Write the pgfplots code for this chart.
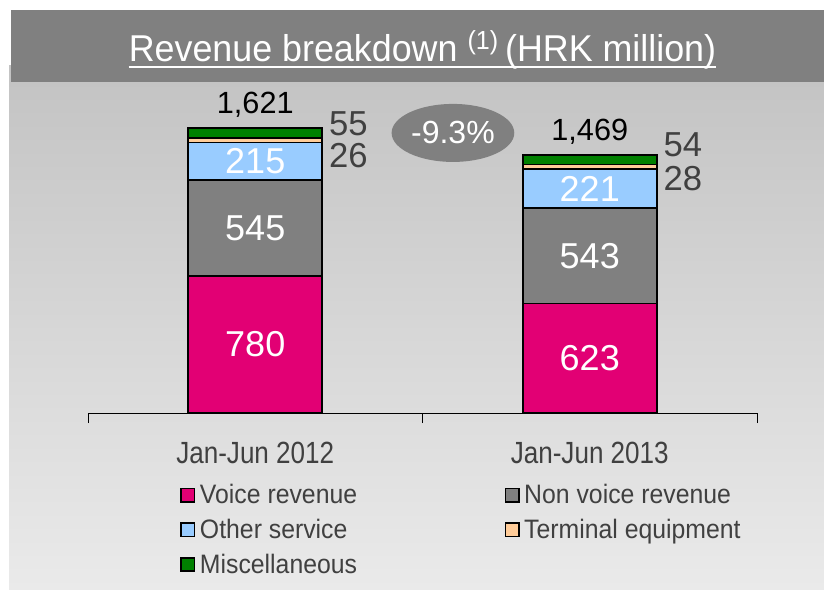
\documentclass[border=0pt]{standalone}
\usepackage{pgfplots}
\pgfplotsset{compat=1.18}
\usepackage{fontspec}
\setmainfont{Liberation Sans}
\newfontfamily\narrowfont[FakeStretch=0.85]{Liberation Sans}
\newfontfamily\legfont[FakeStretch=0.93]{Liberation Sans}
\newfontfamily\titlefont[FakeStretch=0.96]{Liberation Sans}
\usetikzlibrary{shapes.geometric}
\definecolor{tmag}{HTML}{E20074}
\definecolor{nvgray}{HTML}{808080}
\definecolor{lblue}{HTML}{99CCFF}
\definecolor{peach}{HTML}{FFCC99}
\definecolor{dgreen}{HTML}{008000}
\definecolor{txtgray}{HTML}{404040}
\definecolor{titlegray}{HTML}{808080}
\definecolor{bgtop}{HTML}{C3C3C3}
\definecolor{bgbot}{HTML}{EAEAEA}
\begin{document}
\begin{tikzpicture}[x=0.75pt,y=0.75pt]
\useasboundingbox (0,0) rectangle (824,589);
\fill[white] (0,0) rectangle (824,589);
\shade[top color=bgtop,bottom color=bgbot] (9,0) rectangle (824,523);
\fill[titlegray] (11,507) rectangle (824,579);
\node[anchor=base,inner sep=0pt,text=white] (t) at (422.5,527) {\titlefont\fontsize{28}{32}\selectfont Revenue breakdown \textsuperscript{(1)}\,(HRK million)};
\draw[white,line width=1.5pt] ([yshift=-3.75pt]t.base west) -- ([yshift=-3.75pt]t.base east);
\begin{axis}[
  at={(66pt,132pt)}, anchor=south west, scale only axis,
  width=501.75pt, height=237.2pt,
  xmin=-0.5, xmax=1.5, ymin=0, ymax=1800,
  clip=false,
  axis y line=none, axis x line=bottom,
  x axis line style={-,black,line width=0.6pt},
  ybar stacked, bar width=100.5pt,
  xtick={0,1}, xticklabels={Jan-Jun 2012,Jan-Jun 2013},
  major tick length=0pt,
  minor xtick={-0.5,0.5,1.5}, minor tick length=7.5pt, tick align=outside,
  minor x tick style={black,line width=0.6pt},
  xticklabel style={font=\narrowfont\fontsize{23}{26}\selectfont, text=txtgray, yshift=-18pt},
  legend columns=2,
  legend cell align=left,
  legend style={at={(0.1375,-0.2213)}, anchor=north west, draw=none, fill=none,
    font=\legfont\fontsize{20}{22}\selectfont, text=txtgray, inner sep=0pt, row sep=8pt,
    /tikz/every even column/.append style={column sep=107pt},
    nodes={inner xsep=3.5pt, inner ysep=1pt}},
  legend image code/.code={\draw[#1,draw=black,line width=1.3pt] (0pt,-5pt) rectangle (10pt,5pt);},
]
\addplot[fill=tmag,draw=black,line width=1.3pt] coordinates {(0,780) (1,623)};
\addplot[fill=nvgray,draw=black,line width=1.3pt] coordinates {(0,545) (1,543)};
\addplot[fill=lblue,draw=black,line width=1.3pt] coordinates {(0,215) (1,221)};
\addplot[fill=peach,draw=black,line width=1.3pt] coordinates {(0,26) (1,28)};
\addplot[fill=dgreen,draw=black,line width=1.3pt] coordinates {(0,55) (1,54)};
\legend{Voice revenue,Non voice revenue,Other service,Terminal equipment,Miscellaneous}
\coordinate (v1) at (axis cs:0,390);
\coordinate (n1) at (axis cs:0,1052);
\coordinate (o1) at (axis cs:0,1432);
\coordinate (v2) at (axis cs:1,311);
\coordinate (n2) at (axis cs:1,894);
\coordinate (o2) at (axis cs:1,1276);
\coordinate (m1) at (axis cs:0.2,1645);
\coordinate (e1) at (axis cs:0.2,1465);
\coordinate (m2) at (axis cs:1.2,1525);
\coordinate (e2) at (axis cs:1.2,1337);
\coordinate (t1) at (axis cs:0,1752);
\coordinate (t2) at (axis cs:1,1600);
\coordinate (pc) at (axis cs:0.591,1594);
\end{axis}
\begin{scope}[every node/.style={text=white,font=\fontsize{27}{30}\selectfont}]
\node at (v1) {780};
\node at (n1) {545};
\node at (o1) {215};
\node at (v2) {623};
\node at (n2) {543};
\node at (o2) {221};
\end{scope}
\begin{scope}[every node/.style={anchor=west,xshift=5pt,inner sep=0pt,text=txtgray,font=\fontsize{26}{26}\selectfont}]
\node at (m1) {55};
\node at (e1) {26};
\node at (m2) {54};
\node at (e2) {28};
\end{scope}
\node[font=\fontsize{23}{26}\selectfont] at (t1) {1,621};
\node[font=\fontsize{23}{26}\selectfont] at (t2) {1,469};
\node[ellipse,fill=titlegray,minimum width=92pt,minimum height=43.5pt,inner sep=0pt,text=white,font=\fontsize{24}{26}\selectfont] at (pc) {-9.3\%};
\end{tikzpicture}
\end{document}
